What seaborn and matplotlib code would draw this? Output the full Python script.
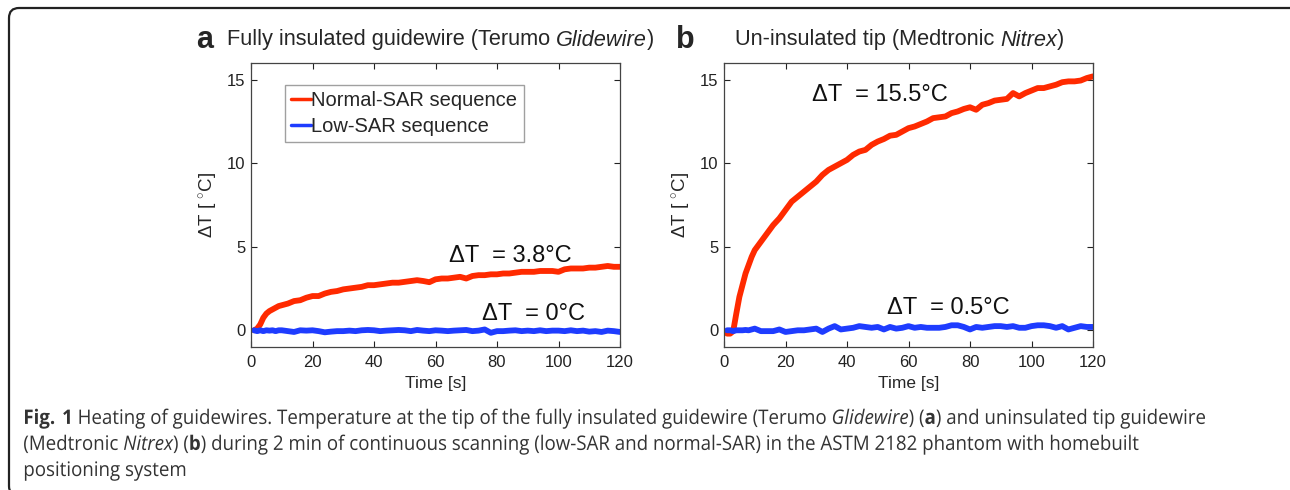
import pandas as pd
import seaborn as sns
import matplotlib.pyplot as plt
from matplotlib.patches import FancyBboxPatch, PathPatch
from matplotlib.textpath import TextPath
from matplotlib.font_manager import FontProperties
from matplotlib.transforms import Affine2D

# sampling times (s)
time_s = [1, 2, 3, 4, 5, 6, 7, 8, 9, 10,
          12, 14, 16, 18, 20, 22, 24, 26, 28, 30,
          32, 34, 36, 38, 40, 42, 44, 46, 48, 50,
          52, 54, 56, 58, 60, 62, 64, 66, 68, 70,
          72, 74, 76, 78, 80, 82, 84, 86, 88, 90,
          92, 94, 96, 98, 100, 102, 104, 106, 108, 110,
          112, 114, 116, 118, 120]

# panel a: Terumo Glidewire
glide_normal = [0.0, 0.1, 0.35, 0.75, 1.0, 1.15, 1.25, 1.35, 1.45, 1.5,
                1.6, 1.75, 1.8, 1.95, 2.05, 2.05, 2.2, 2.3, 2.35, 2.45,
                2.5, 2.55, 2.6, 2.7, 2.7, 2.75, 2.8, 2.85, 2.85, 2.9,
                2.95, 3.0, 2.95, 2.88, 3.05, 3.1, 3.1, 3.15, 3.2, 3.1,
                3.25, 3.3, 3.3, 3.35, 3.35, 3.4, 3.4, 3.45, 3.5, 3.5,
                3.5, 3.55, 3.55, 3.55, 3.5, 3.65, 3.7, 3.7, 3.7, 3.75,
                3.75, 3.8, 3.85, 3.8, 3.8]
glide_low = [0.0, -0.05, 0.0, -0.05, 0.0, -0.02, 0.0, -0.05, 0.0, 0.0,
             -0.05, -0.1, 0.0, -0.02, 0.0, -0.05, -0.12, -0.08, -0.05, -0.05,
             -0.02, -0.05, 0.0, 0.02, 0.0, -0.05, -0.02, 0.0, 0.02, 0.0,
             -0.05, 0.02, -0.02, -0.05, 0.0, -0.02, -0.05, -0.02, 0.0, 0.02,
             -0.05, -0.02, 0.05, -0.15, -0.05, -0.05, -0.02, 0.0, -0.05, -0.02,
             -0.05, 0.0, -0.05, -0.02, -0.02, -0.05, 0.0, -0.05, -0.02, -0.08,
             -0.05, -0.1, -0.02, -0.05, -0.1]

# panel b: Medtronic Nitrex
nitrex_normal = [-0.2, -0.2, -0.05, 1.0, 2.0, 2.7, 3.4, 3.9, 4.4, 4.8,
                 5.3, 5.8, 6.3, 6.7, 7.2, 7.7, 8.0, 8.3, 8.6, 8.9,
                 9.3, 9.6, 9.8, 10.0, 10.2, 10.5, 10.7, 10.8, 11.1, 11.3,
                 11.45, 11.65, 11.7, 11.9, 12.1, 12.2, 12.35, 12.5, 12.7, 12.75,
                 12.8, 13.0, 13.1, 13.25, 13.35, 13.2, 13.5, 13.6, 13.75, 13.8,
                 13.85, 14.2, 14.0, 14.2, 14.35, 14.5, 14.5, 14.6, 14.7, 14.85,
                 14.9, 14.9, 14.95, 15.1, 15.2]
nitrex_low = [0.0, 0.0, -0.05, 0.0, 0.0, 0.0, 0.02, 0.0, 0.05, 0.1,
              -0.05, -0.05, -0.05, 0.05, -0.1, -0.05, 0.0, 0.0, 0.05, 0.1,
              -0.1, 0.1, 0.25, 0.05, 0.1, 0.15, 0.25, 0.2, 0.15, 0.2,
              0.05, 0.2, 0.1, 0.15, 0.25, 0.15, 0.2, 0.15, 0.15, 0.15,
              0.2, 0.3, 0.3, 0.2, 0.05, 0.2, 0.15, 0.2, 0.25, 0.25,
              0.2, 0.25, 0.15, 0.15, 0.25, 0.3, 0.3, 0.25, 0.15, 0.25,
              0.05, 0.15, 0.25, 0.2, 0.2]

series_names = ['Normal-SAR sequence', 'Low-SAR sequence']
panel_letters = ['a', 'b']
panel_titles = [['Fully insulated guidewire (Terumo ', ('Glidewire', 'italic'), ')'],
                ['Un-insulated tip (Medtronic ', ('Nitrex', 'italic'), ')']]
delta_labels = [['ΔT  = 3.8°C', 'ΔT  = 0°C'], ['ΔT  = 15.5°C', 'ΔT  = 0.5°C']]
x_ticks = [0, 20, 40, 60, 80, 100, 120]
y_ticks = [0, 5, 10, 15]
caption_lines = [
    r'$\mathbf{Fig.\:1}$ Heating of guidewires. Temperature at the tip of the fully insulated guidewire '
    r'(Terumo $\mathit{Glidewire}$) ($\mathbf{a}$) and uninsulated tip guidewire',
    r'(Medtronic $\mathit{Nitrex}$) ($\mathbf{b}$) during 2 min of continuous scanning (low-SAR and '
    r'normal-SAR) in the ASTM 2182 phantom with homebuilt',
    'positioning system',
]

sns.set_theme(style='ticks')
plt.rcParams['font.family'] = ['Liberation Sans', 'DejaVu Sans']
plt.rcParams['mathtext.fontset'] = 'custom'
plt.rcParams['mathtext.rm'] = 'Open Sans'
plt.rcParams['mathtext.it'] = 'Open Sans:italic'
plt.rcParams['mathtext.bf'] = 'Open Sans:bold'

colors = {'Normal-SAR sequence': '#ff2a00', 'Low-SAR sequence': '#1e3cff'}


def long_table(normal, low):
    df = pd.DataFrame({'Time': time_s * 2,
                       'dT': normal + low,
                       'Sequence': [series_names[0]] * len(time_s) + [series_names[1]] * len(time_s)})
    return df


def draw_runs(fig, x, y, runs, **kw):
    # place text pieces one after another (mixed bold/italic)
    renderer = fig.canvas.get_renderer()
    inv = fig.transFigure.inverted()
    for run in runs:
        if isinstance(run, tuple):
            txt, style = run
        else:
            txt, style = run, 'normal'
        t = fig.text(x, y, txt,
                     fontweight='bold' if style == 'bold' else 'normal',
                     fontstyle='italic' if style == 'italic' else 'normal', **kw)
        bb = t.get_window_extent(renderer)
        x = inv.transform((bb.x1, bb.y0))[0]


fig = plt.figure(figsize=(12.9, 4.9), dpi=100)

datasets = [long_table(glide_normal, glide_low), long_table(nitrex_normal, nitrex_low)]
lefts = [251 / 1290, 724 / 1290]
text_pos = [[(64.5, 4.45), (75.0, 1.0)], [(28.5, 14.1), (53.0, 1.35)]]

for i, df in enumerate(datasets):
    ax = fig.add_axes([lefts[i], 1 - 347 / 490, 369 / 1290, 284 / 490])
    sns.lineplot(data=df, x='Time', y='dT', hue='Sequence', palette=colors,
                 linewidth=4.2, ax=ax, legend=(i == 0))
    ax.set_xlim(0, 120)
    ax.set_ylim(-1, 16)
    ax.set_xticks(x_ticks)
    ax.set_yticks(y_ticks)
    ax.tick_params(direction='in', top=True, right=True, length=4, width=0.8,
                   labelsize=12, colors='#222222')
    ax.tick_params(axis='x', pad=6)
    ax.tick_params(axis='y', pad=4)
    for sp in ax.spines.values():
        sp.set_color('#444444')
        sp.set_linewidth(0.9)
    ax.set_xlabel('Time [s]', fontsize=12.5, labelpad=4)
    ax.set_ylabel('ΔT [ $^{\\circ}$C]', fontsize=13.5, labelpad=5)
    for (tx, ty), lab in zip(text_pos[i], delta_labels[i]):
        ax.text(tx, ty, lab, fontsize=17, ha='left', va='center', color='#111111')
    if i == 0:
        leg = ax.legend(loc='upper left', bbox_to_anchor=(0.093, 0.922), fontsize=14.5,
                        handlelength=1.0, handletextpad=0.0, borderpad=0.3,
                        labelspacing=0.35, fancybox=False, frameon=True, borderaxespad=0)
        leg.get_frame().set_edgecolor('#888888')
        leg.get_frame().set_linewidth(1.0)
        for h in leg.get_lines():
            h.set_linewidth(2.5)

# panel letters and titles
fig.text(196 / 1290, 1 - 40 / 490, 'a', fontsize=22, fontweight='bold', va='center')
draw_runs(fig, 227 / 1290, 1 - 40 / 490, panel_titles[0], fontsize=15.7, va='center')
fig.text(676 / 1290, 1 - 40 / 490, 'b', fontsize=22, fontweight='bold', va='center')
draw_runs(fig, 735 / 1290, 1 - 40 / 490, panel_titles[1], fontsize=15.7, va='center')

# caption: drawn as text paths so that the line width can be matched
cap_prop = FontProperties(family='Open Sans', size=20)
cap_paths = [TextPath((0, 0), line, prop=cap_prop) for line in caption_lines]
ext0 = cap_paths[0].get_extents()
sx = (1205 - 25) / ext0.width
baselines = [424, 450, 476]
for path, base in zip(cap_paths, baselines):
    tr = Affine2D().translate(-ext0.x0, 0).scale(sx, 1).translate(25, 490 - base)
    fig.add_artist(PathPatch(path, transform=tr, facecolor='#333333', edgecolor='none', lw=0))

# rounded frame around the figure (pixel coordinates, bottom/right run off the edge)
frame = FancyBboxPatch((9, -6), 1300, 488,
                       boxstyle='round,pad=0,rounding_size=10',
                       transform=Affine2D(), fill=False, edgecolor='#222222',
                       linewidth=1.6, clip_on=False)
fig.add_artist(frame)

fig.savefig('out.png', dpi=100, facecolor='white')
